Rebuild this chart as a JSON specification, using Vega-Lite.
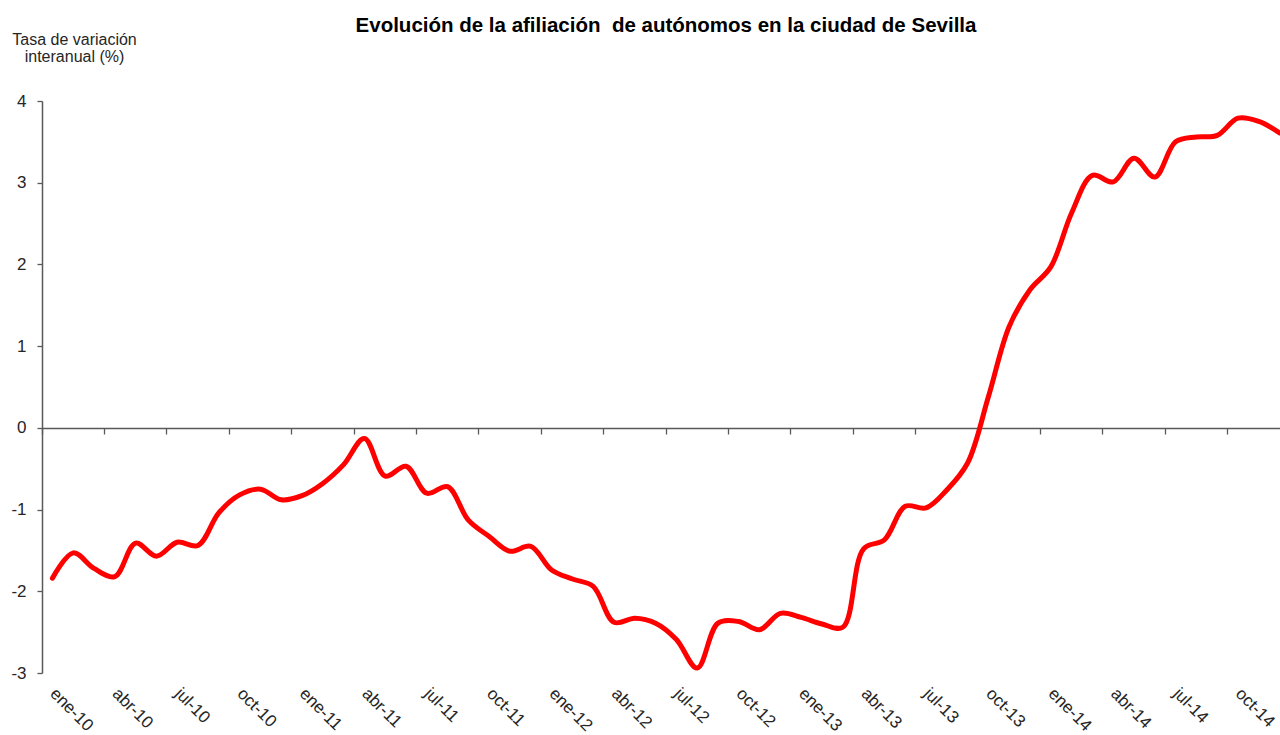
{
  "$schema": "https://vega.github.io/schema/vega-lite/v6.json",
  "autosize": {"type": "none"},
  "width": 1238,
  "height": 572,
  "padding": {"left": 42, "top": 101, "right": 0, "bottom": 62},
  "background": "white",
  "config": {"view": {"stroke": null}, "font": "Liberation Sans"},
  "title": {
    "text": "Evolución de la afiliación\u00a0 de autónomos en la ciudad de Sevilla",
    "font": "Liberation Sans",
    "fontSize": 20.5,
    "fontWeight": "bold",
    "color": "#000000",
    "anchor": "middle",
    "frame": "group",
    "dx": 5,
    "offset": -5
  },
  "data": {
    "values": [
      {"mes": "ene-10", "tasa": -1.84}, {"mes": "feb-10", "tasa": -1.53}, {"mes": "mar-10", "tasa": -1.72},
      {"mes": "abr-10", "tasa": -1.82}, {"mes": "may-10", "tasa": -1.41}, {"mes": "jun-10", "tasa": -1.57},
      {"mes": "jul-10", "tasa": -1.40}, {"mes": "ago-10", "tasa": -1.44}, {"mes": "sep-10", "tasa": -1.04},
      {"mes": "oct-10", "tasa": -0.82}, {"mes": "nov-10", "tasa": -0.75}, {"mes": "dic-10", "tasa": -0.88},
      {"mes": "ene-11", "tasa": -0.83}, {"mes": "feb-11", "tasa": -0.68}, {"mes": "mar-11", "tasa": -0.45},
      {"mes": "abr-11", "tasa": -0.13}, {"mes": "may-11", "tasa": -0.59}, {"mes": "jun-11", "tasa": -0.47},
      {"mes": "jul-11", "tasa": -0.80}, {"mes": "ago-11", "tasa": -0.72}, {"mes": "sep-11", "tasa": -1.13},
      {"mes": "oct-11", "tasa": -1.33}, {"mes": "nov-11", "tasa": -1.51}, {"mes": "dic-11", "tasa": -1.45},
      {"mes": "ene-12", "tasa": -1.74}, {"mes": "feb-12", "tasa": -1.85}, {"mes": "mar-12", "tasa": -1.94},
      {"mes": "abr-12", "tasa": -2.38}, {"mes": "may-12", "tasa": -2.33}, {"mes": "jun-12", "tasa": -2.39},
      {"mes": "jul-12", "tasa": -2.59}, {"mes": "ago-12", "tasa": -2.94}, {"mes": "sep-12", "tasa": -2.39},
      {"mes": "oct-12", "tasa": -2.37}, {"mes": "nov-12", "tasa": -2.47}, {"mes": "dic-12", "tasa": -2.27},
      {"mes": "ene-13", "tasa": -2.32}, {"mes": "feb-13", "tasa": -2.40}, {"mes": "mar-13", "tasa": -2.44},
      {"mes": "abr-13", "tasa": -1.48}, {"mes": "may-13", "tasa": -1.37}, {"mes": "jun-13", "tasa": -0.96},
      {"mes": "jul-13", "tasa": -0.98}, {"mes": "ago-13", "tasa": -0.76}, {"mes": "sep-13", "tasa": -0.43},
      {"mes": "oct-13", "tasa": 0.38}, {"mes": "nov-13", "tasa": 1.24}, {"mes": "dic-13", "tasa": 1.69},
      {"mes": "ene-14", "tasa": 1.97}, {"mes": "feb-14", "tasa": 2.63}, {"mes": "mar-14", "tasa": 3.09},
      {"mes": "abr-14", "tasa": 3.01}, {"mes": "may-14", "tasa": 3.30}, {"mes": "jun-14", "tasa": 3.07},
      {"mes": "jul-14", "tasa": 3.50}, {"mes": "ago-14", "tasa": 3.56}, {"mes": "sep-14", "tasa": 3.58},
      {"mes": "oct-14", "tasa": 3.79}, {"mes": "nov-14", "tasa": 3.75}, {"mes": "dic-14", "tasa": 3.61}
    ]
  },
  "layer": [
    {
      "mark": {"type": "line", "opacity": 0},
      "encoding": {
        "x": {
          "field": "mes", "type": "ordinal", "sort": null,
          "scale": {"type": "band", "range": [0, 1248], "paddingInner": 0, "paddingOuter": 0},
          "axis": {
            "orient": "bottom", "offset": -245, "title": null, "labels": false,
            "ticks": true, "tickSize": 6, "tickColor": "#595959", "tickWidth": 1.3,
            "domain": true, "domainColor": "#595959", "domainWidth": 1.5,
            "grid": false, "bandPosition": 0,
            "values": ["ene-10","abr-10","jul-10","oct-10","ene-11","abr-11","jul-11","oct-11","ene-12","abr-12","jul-12","oct-12","ene-13","abr-13","jul-13","oct-13","ene-14","abr-14","jul-14","oct-14"]
          }
        },
        "y": {
          "field": "tasa", "type": "quantitative",
          "scale": {"domain": [-3, 4], "nice": false, "zero": false},
          "axis": {
            "values": [-3, -2, -1, 0, 1, 2, 3, 4],
            "labelExpr": "'' + datum.value",
            "grid": false,
            "domainColor": "#595959", "domainWidth": 1.5,
            "tickColor": "#595959", "tickSize": 5, "tickWidth": 1.3,
            "labelFontSize": 17, "labelColor": "#262626", "labelPadding": 11,
            "labelFont": "Liberation Sans",
            "title": ["Tasa de variación", "interanual (%)"],
            "titleAngle": 0, "titleAlign": "center", "titleBaseline": "alphabetic",
            "titleX": 32, "titleY": -57,
            "titleFontSize": 16, "titleFontWeight": "normal", "titleColor": "#262626",
            "titleLineHeight": 17, "titleFont": "Liberation Sans"
          }
        }
      }
    },
    {
      "mark": {"type": "line", "color": "#ff0000", "strokeWidth": 5, "interpolate": "catmull-rom", "strokeCap": "round", "strokeJoin": "round"},
      "encoding": {
        "x": {
          "field": "mes", "type": "ordinal", "sort": null, "bandPosition": 0.5,
          "axis": {
            "orient": "bottom", "title": null, "ticks": false, "domain": false, "grid": false,
            "bandPosition": 0.5,
            "labelAngle": 45, "labelAlign": "left", "labelBaseline": "top",
            "labelFontSize": 17, "labelColor": "#262626", "labelPadding": 12, "labelOffset": 6,
            "labelFont": "Liberation Sans",
            "values": ["ene-10","abr-10","jul-10","oct-10","ene-11","abr-11","jul-11","oct-11","ene-12","abr-12","jul-12","oct-12","ene-13","abr-13","jul-13","oct-13","ene-14","abr-14","jul-14","oct-14"]
          }
        },
        "y": {"field": "tasa", "type": "quantitative"}
      }
    }
  ],
  "resolve": {"axis": {"x": "independent"}}
}
